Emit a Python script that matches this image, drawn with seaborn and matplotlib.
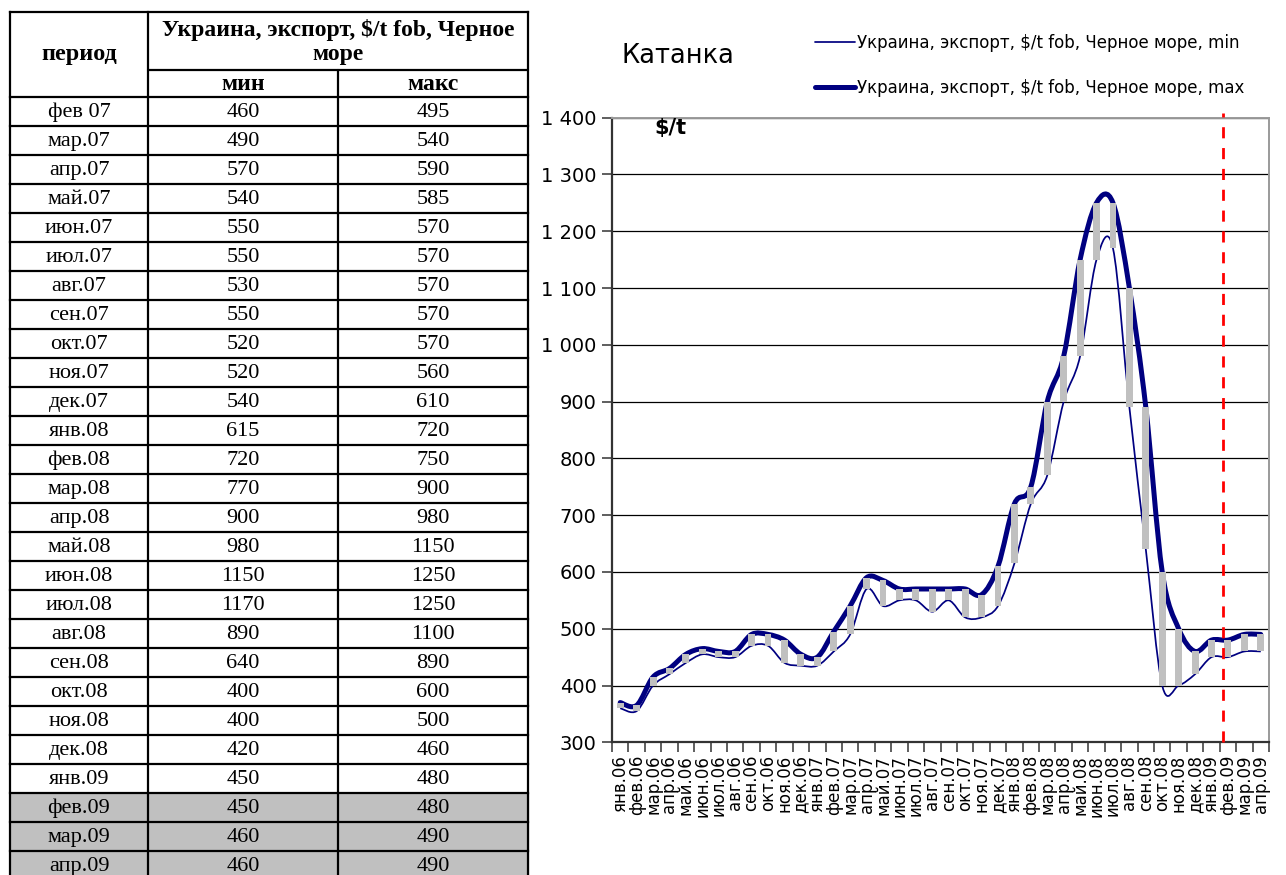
import numpy as np
import pandas as pd
import matplotlib
matplotlib.use("Agg")
import matplotlib.pyplot as plt
import seaborn as sns
from matplotlib.path import Path
from matplotlib.patches import PathPatch, Rectangle
from matplotlib.lines import Line2D
from matplotlib.ticker import FuncFormatter, MultipleLocator, FixedLocator

# --- данные ---
months = ["янв.06", "фев.06", "мар.06", "апр.06", "май.06", "июн.06", "июл.06", "авг.06",
          "сен.06", "окт.06", "ноя.06", "дек.06",
          "янв.07", "фев.07", "мар.07", "апр.07", "май.07", "июн.07", "июл.07", "авг.07",
          "сен.07", "окт.07", "ноя.07", "дек.07",
          "янв.08", "фев.08", "мар.08", "апр.08", "май.08", "июн.08", "июл.08", "авг.08",
          "сен.08", "окт.08", "ноя.08", "дек.08",
          "янв.09", "фев.09", "мар.09", "апр.09"]
price_min = [360, 355, 400, 420, 440, 455, 450, 450, 470, 470, 440, 435,
             435, 460, 490, 570, 540, 550, 550, 530, 550, 520, 520, 540,
             615, 720, 770, 900, 980, 1150, 1170, 890, 640, 400, 400, 420,
             450, 450, 460, 460]
price_max = [370, 365, 415, 430, 455, 465, 460, 460, 490, 490, 480, 455,
             450, 495, 540, 590, 585, 570, 570, 570, 570, 570, 560, 610,
             720, 750, 900, 980, 1150, 1250, 1250, 1100, 890, 600, 500, 460,
             480, 480, 490, 490]
# строки таблицы начинаются с фев.07
table_start = 13
table_periods = ["фев 07"] + months[table_start + 1:]
forecast_pos = 36.7   # красная пунктирная линия между янв.09 и фев.09
n_forecast_rows = 3   # серые строки таблицы

df = pd.DataFrame({"period": months, "min": price_min, "max": price_max})
df["range"] = df["max"] - df["min"]

NAVY = "#000080"
GREY = "#C0C0C0"

sns.set_theme(style="white")
plt.rcParams["font.family"] = ["DejaVu Sans"]
plt.rcParams["text.color"] = "black"

fig = plt.figure(figsize=(12.86, 8.75), dpi=100)
W, H = 1286, 875


def smooth_path(xs, ys):
    # сглаженная линия как в Excel (кривые Безье через точки)
    pts = np.column_stack([xs, ys]).astype(float)
    n = len(pts)
    verts = [pts[0]]
    codes = [Path.MOVETO]
    for i in range(n - 1):
        p0 = pts[max(i - 1, 0)]
        p1 = pts[i]
        p2 = pts[i + 1]
        p3 = pts[min(i + 2, n - 1)]
        verts += [p1 + (p2 - p0) / 6, p2 - (p3 - p1) / 6, p2]
        codes += [Path.CURVE4] * 3
    return Path(verts, codes)


### график
ax = fig.add_axes([612 / W, 1 - 742.3 / H, 657 / W, 624.6 / H])
sns.barplot(data=df, x="period", y="range", bottom=df["min"].values, color=GREY,
            width=0.42, errorbar=None, saturation=1, ax=ax, zorder=4, edgecolor="none")

xs = np.arange(len(months))
ax.add_patch(PathPatch(smooth_path(xs, df["max"].values), fill=False, edgecolor=NAVY,
                       lw=3.6, capstyle="round", joinstyle="round", zorder=3))
ax.add_patch(PathPatch(smooth_path(xs, df["min"].values), fill=False, edgecolor=NAVY,
                       lw=1.25, zorder=3))

ax.axvline(forecast_pos, ymin=0, ymax=1.008, color="red", lw=2, ls=(0, (4, 3.5)),
           clip_on=False, zorder=5)

ax.set_xlim(-0.5, len(months) - 0.5)
ax.set_ylim(300, 1400)
ax.yaxis.set_major_locator(MultipleLocator(100))
ax.yaxis.set_major_formatter(FuncFormatter(lambda v, p: f"{int(v):,}".replace(",", " ")))
ax.grid(axis="y", color="black", lw=0.9)
ax.set_axisbelow(True)
ax.set_xlabel("")
ax.set_ylabel("")

ax.xaxis.set_major_locator(FixedLocator(xs))
ax.set_xticklabels(months, rotation=90, va="top", ha="center")
ax.xaxis.set_minor_locator(FixedLocator(np.arange(len(months) + 1) - 0.5))
ax.tick_params(axis="x", which="major", length=0, pad=9, labelsize=12, colors="black")
ax.tick_params(axis="x", which="minor", length=7, width=1.1, color="#333333", bottom=True)
ax.tick_params(axis="y", length=7, width=1.1, color="#333333", left=True, pad=4,
               labelsize=14, labelcolor="black")

for side in ["left", "bottom"]:
    ax.spines[side].set_color("#333333")
    ax.spines[side].set_linewidth(1.6)
for side in ["top", "right"]:
    ax.spines[side].set_color("#9A9A9A")
    ax.spines[side].set_linewidth(1.4)
    ax.spines[side].set_visible(True)

ax.text(0.064, 0.983, r"\$/t", transform=ax.transAxes, fontsize=15, fontweight="bold",
        va="center", ha="left")

fig.text(622 / W, 1 - 56 / H, "Катанка", fontsize=18.5, va="center", ha="left")

handles = [Line2D([], [], color=NAVY, lw=1.25), Line2D([], [], color=NAVY, lw=3.6)]
labels = [r"Украина, экспорт, \$/t fob, Черное море, min",
          r"Украина, экспорт, \$/t fob, Черное море, max"]
fig.legend(handles, labels, loc="upper left", bbox_to_anchor=(815 / W, 1 - 34 / H),
           frameon=False, fontsize=12, handlelength=2.4, handletextpad=0.1,
           labelspacing=1.6, borderaxespad=0, borderpad=0)

### таблица
tx = fig.add_axes([0, 0, 540 / W, 1])
tx.set_xlim(0, 540)
tx.set_ylim(H, 0)
tx.axis("off")

left, c1, c2, right = 10, 148, 338, 528
top, h1, h2, row_h = 12, 70, 97, 29
serif = ["Liberation Serif", "DejaVu Serif"]
n_rows = len(table_periods)
bottom_y = h2 + row_h * n_rows

for k in range(n_rows):
    y0 = h2 + row_h * k
    if k >= n_rows - n_forecast_rows:
        tx.add_patch(Rectangle((left, y0), right - left, row_h, color=GREY, zorder=1))
    i = table_start + k
    yc = y0 + row_h / 2 + 1
    tx.text((left + c1) / 2, yc, table_periods[k], family=serif, fontsize=16,
            ha="center", va="center", zorder=3)
    tx.text((c1 + c2) / 2, yc, str(price_min[i]), family=serif, fontsize=16,
            ha="center", va="center", zorder=3)
    tx.text((c2 + right) / 2, yc, str(price_max[i]), family=serif, fontsize=16,
            ha="center", va="center", zorder=3)
    tx.plot([left, right], [y0, y0], color="black", lw=1.6, zorder=2,
            solid_capstyle="projecting")

tx.plot([left, right], [top, top], color="black", lw=1.6, zorder=2, solid_capstyle="projecting")
tx.plot([c1, right], [h1, h1], color="black", lw=1.6, zorder=2)
for xv in [left, c1, right]:
    tx.plot([xv, xv], [top, bottom_y], color="black", lw=1.6, zorder=2,
            solid_capstyle="projecting")
tx.plot([c2, c2], [h1, bottom_y], color="black", lw=1.6, zorder=2)

tx.text((left + c1) / 2, (top + h2) / 2, "период", family=serif, fontsize=17.5,
        fontweight="bold", ha="center", va="center")
tx.text((c1 + right) / 2, (top + h1) / 2 + 1, "Украина, экспорт, \\$/t fob, Черное\nморе",
        family=serif, fontsize=17, fontweight="bold", ha="center", va="center",
        linespacing=1.15)
tx.text((c1 + c2) / 2, (h1 + h2) / 2 + 1, "мин", family=serif, fontsize=17,
        fontweight="bold", ha="center", va="center")
tx.text((c2 + right) / 2, (h1 + h2) / 2 + 1, "макс", family=serif, fontsize=17,
        fontweight="bold", ha="center", va="center")

fig.savefig("out.png", dpi=100)
